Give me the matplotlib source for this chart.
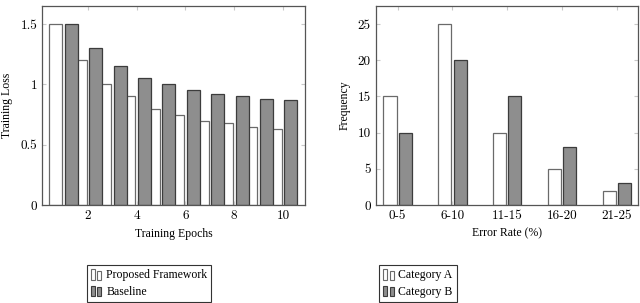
import numpy as np
import matplotlib.pyplot as plt
from matplotlib.patches import Rectangle
from matplotlib.legend_handler import HandlerBase

# left chart data
epochs = np.arange(1, 11)
proposed = [1.5, 1.2, 1.0, 0.9, 0.8, 0.75, 0.7, 0.68, 0.65, 0.63]
baseline = [1.5, 1.3, 1.15, 1.05, 1.0, 0.95, 0.92, 0.9, 0.88, 0.87]

# right chart data
error_bins = ["0-5", "6-10", "11-15", "16-20", "21-25"]
cat_a = [15, 25, 10, 5, 2]
cat_b = [10, 20, 15, 8, 3]

label_font = "Liberation Serif"
tick_font = "cmr10"
gray = "#8e8e8e"
edge_dark = "#3c3c3c"
edge_light = "#6a6a6a"


class TwoBarHandler(HandlerBase):
    # pgfplots-style legend image: two small bars
    def create_artists(self, legend, orig_handle, xdescent, ydescent,
                       width, height, fontsize, trans):
        fc = orig_handle.get_facecolor()
        ec = orig_handle.get_edgecolor()
        bw = width * 0.32
        bars = []
        for x0, h in [(0.0, 1.0), (width * 0.5, 0.85)]:
            r = Rectangle((x0 - xdescent, -ydescent), bw, height * h,
                          facecolor=fc, edgecolor=ec, lw=0.8, transform=trans)
            bars.append(r)
        return bars


def style_axis(ax):
    ax.tick_params(direction="in", top=True, right=True, length=3,
                   color="#c8c8c8", labelsize=9.5, labelfontfamily=tick_font)
    for sp in ax.spines.values():
        sp.set_color("#555555")
        sp.set_linewidth(0.9)


fig = plt.figure(figsize=(6.4, 3.03), dpi=100)

# left: training loss
ax1 = fig.add_axes([42 / 640, 98 / 303, 263 / 640, 199 / 303])
w1 = 0.53
b1 = ax1.bar(epochs - 0.32, proposed, w1, color="white", edgecolor=edge_light,
             lw=0.9, label="Proposed Framework")
b2 = ax1.bar(epochs + 0.32, baseline, w1, color=gray, edgecolor=edge_dark,
             lw=0.9, label="Baseline")
ax1.set_xlim(0.12, 10.9)
ax1.set_ylim(0, 1.65)
ax1.set_xticks([2, 4, 6, 8, 10])
ax1.set_yticks([0, 0.5, 1, 1.5])
ax1.set_yticklabels(["0", "0.5", "1", "1.5"])
ax1.set_xlabel("Training Epochs", fontfamily=label_font, fontsize=8.5, labelpad=4)
ax1.set_ylabel("Training Loss", fontfamily=label_font, fontsize=8.5, labelpad=5)
style_axis(ax1)

# right: error rate histogram
ax2 = fig.add_axes([375.7 / 640, 98 / 303, 262 / 640, 199 / 303])
x = np.arange(len(error_bins))
w2 = 0.24
b3 = ax2.bar(x - 0.14, cat_a, w2, color="white", edgecolor=edge_light,
             lw=0.9, label="Category A")
b4 = ax2.bar(x + 0.14, cat_b, w2, color=gray, edgecolor=edge_dark,
             lw=0.9, label="Category B")
ax2.set_xlim(-0.4, 4.38)
ax2.set_ylim(0, 27.5)
ax2.set_xticks(x)
ax2.set_xticklabels(error_bins)
ax2.set_yticks([0, 5, 10, 15, 20, 25])
ax2.set_xlabel("Error Rate (%)", fontfamily=label_font, fontsize=8.5, labelpad=4)
ax2.set_ylabel("Frequency", fontfamily=label_font, fontsize=8.5, labelpad=5)
style_axis(ax2)

leg_kw = dict(loc="lower left", fancybox=False, edgecolor="#333333",
              framealpha=1, borderpad=0.35, borderaxespad=0,
              handlelength=1.1, handleheight=1.0,
              handletextpad=0.2, labelspacing=0.35,
              prop={"family": label_font, "size": 8.5},
              handler_map={Rectangle: TwoBarHandler()})
leg1 = fig.legend(handles=[b1.patches[0], b2.patches[0]],
                  labels=["Proposed Framework", "Baseline"],
                  bbox_to_anchor=(86.7 / 640, 1 / 303), **leg_kw)
leg2 = fig.legend(handles=[b3.patches[0], b4.patches[0]],
                  labels=["Category A", "Category B"],
                  bbox_to_anchor=(379 / 640, 1 / 303), **leg_kw)
for leg in (leg1, leg2):
    leg.get_frame().set_linewidth(0.8)

fig.savefig("out.png", dpi=100)
